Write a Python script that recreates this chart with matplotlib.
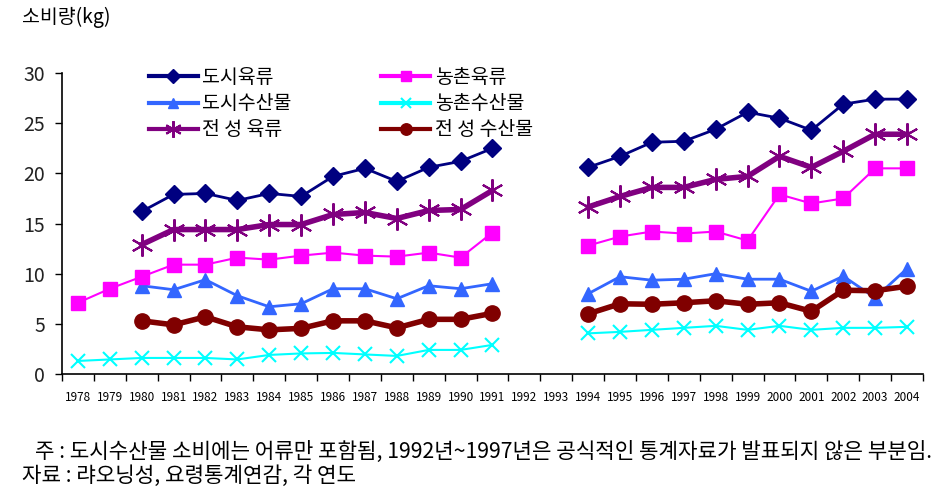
import matplotlib
matplotlib.use("Agg")
import matplotlib.pyplot as plt
import numpy as np

plt.rcParams["font.family"] = ["Noto Sans CJK KR", "DejaVu Sans"]

# ---------------------------------------------------------------------------
# Data (kg per capita); 1992-1993 have no published figures -> NaN
# ---------------------------------------------------------------------------
YEARS = [str(y) for y in range(1978, 2005)]
NA = np.nan

CITY_MEAT = [NA, NA, 16.2, 17.9, 18.0, 17.3, 18.0, 17.7, 19.7, 20.5, 19.2, 20.6, 21.2, 22.5,
             NA, NA, 20.6, 21.7, 23.1, 23.2, 24.4, 26.1, 25.5, 24.3, 26.9, 27.4, 27.4]
RURAL_MEAT = [7.1, 8.5, 9.7, 10.9, 10.9, 11.6, 11.4, 11.8, 12.1, 11.8, 11.7, 12.1, 11.6, 14.1,
              NA, NA, 12.8, 13.7, 14.2, 14.0, 14.2, 13.3, 17.9, 17.0, 17.5, 20.5, 20.5]
CITY_FISH = [NA, NA, 8.8, 8.4, 9.4, 7.8, 6.7, 7.0, 8.5, 8.5, 7.5, 8.8, 8.5, 9.0,
             NA, NA, 8.0, 9.7, 9.35, 9.45, 10.0, 9.45, 9.45, 8.25, 9.75, 7.6, 10.5]
RURAL_FISH = [1.3, 1.45, 1.6, 1.6, 1.6, 1.45, 1.9, 2.05, 2.1, 1.95, 1.8, 2.4, 2.4, 2.9,
              NA, NA, 4.05, 4.2, 4.4, 4.6, 4.8, 4.4, 4.8, 4.4, 4.6, 4.6, 4.7]
PROV_MEAT = [NA, NA, 12.9, 14.4, 14.4, 14.4, 14.9, 14.9, 15.9, 16.1, 15.5, 16.3, 16.4, 18.3,
             NA, NA, 16.65, 17.7, 18.6, 18.6, 19.4, 19.7, 21.7, 20.6, 22.2, 23.9, 23.9]
PROV_FISH = [NA, NA, 5.3, 4.9, 5.7, 4.7, 4.4, 4.55, 5.3, 5.3, 4.6, 5.45, 5.45, 6.05,
             NA, NA, 6.0, 7.0, 6.95, 7.1, 7.3, 6.95, 7.1, 6.25, 8.35, 8.3, 8.75]

SERIES = [
    ("도시육류", CITY_MEAT, "#000080", "D", 2.0, 9),
    ("도시수산물", CITY_FISH, "#3366FF", "^", 2.0, 10),
    ("전 성 육류", PROV_MEAT, "#800080", (6, 2, 0), 4.0, 16),
    ("농촌육류", RURAL_MEAT, "#FF00FF", "s", 1.5, 10),
    ("농촌수산물", RURAL_FISH, "#00FFFF", "x", 1.5, 10),
    ("전 성 수산물", PROV_FISH, "#800000", "o", 4.0, 11),
]

fig = plt.figure(figsize=(9.52, 4.97), dpi=100)
ax = fig.add_axes([0.0651, 0.2475, 0.9044, 0.6055])

x = np.arange(len(YEARS))
for label, vals, color, marker, lw, ms in SERIES:
    mew = 1.5 if marker in ("x", (6, 2, 0)) else 1.0
    ax.plot(x, vals, color=color, lw=lw, marker=marker, ms=ms,
            mew=mew, mec=color, mfc=color, label=label)

ax.set_xlim(-0.5, len(YEARS) - 0.5)
ax.set_ylim(0, 30)
ax.set_yticks(range(0, 31, 5))
ax.tick_params(axis="y", length=5, width=1, pad=7, labelsize=14, labelcolor="#222222")

ax.set_xticks(x)
ax.set_xticklabels(YEARS, fontsize=8.5)
ax.tick_params(axis="x", which="major", length=0, pad=12)
ax.set_xticks(np.arange(-0.5, len(YEARS)), minor=True)
ax.tick_params(axis="x", which="minor", length=5, width=1)

for side in ("top", "right"):
    ax.spines[side].set_visible(False)
for side in ("left", "bottom"):
    ax.spines[side].set_linewidth(1.2)

leg = ax.legend(loc="upper left", bbox_to_anchor=(0.092, 1.045), ncol=2, frameon=False,
                fontsize=14, handlelength=2.5, handletextpad=0.25, columnspacing=4.6,
                labelspacing=0.26, borderaxespad=0, markerscale=0.75)
for h in leg.get_lines():
    h.set_linewidth(3)

fig.text(0.023, 0.965, "소비량(kg)", fontsize=14, va="center", ha="left")
fig.text(0.037, 0.09, "주 : 도시수산물 소비에는 어류만 포함됨, 1992년~1997년은 공식적인 통계자료가 발표되지 않은 부분임.",
         fontsize=15.3, va="center", ha="left")
fig.text(0.023, 0.042, "자료 : 랴오닝성, 요령통계연감, 각 연도", fontsize=15.3, va="center", ha="left")

fig.savefig("out.png", dpi=100)
